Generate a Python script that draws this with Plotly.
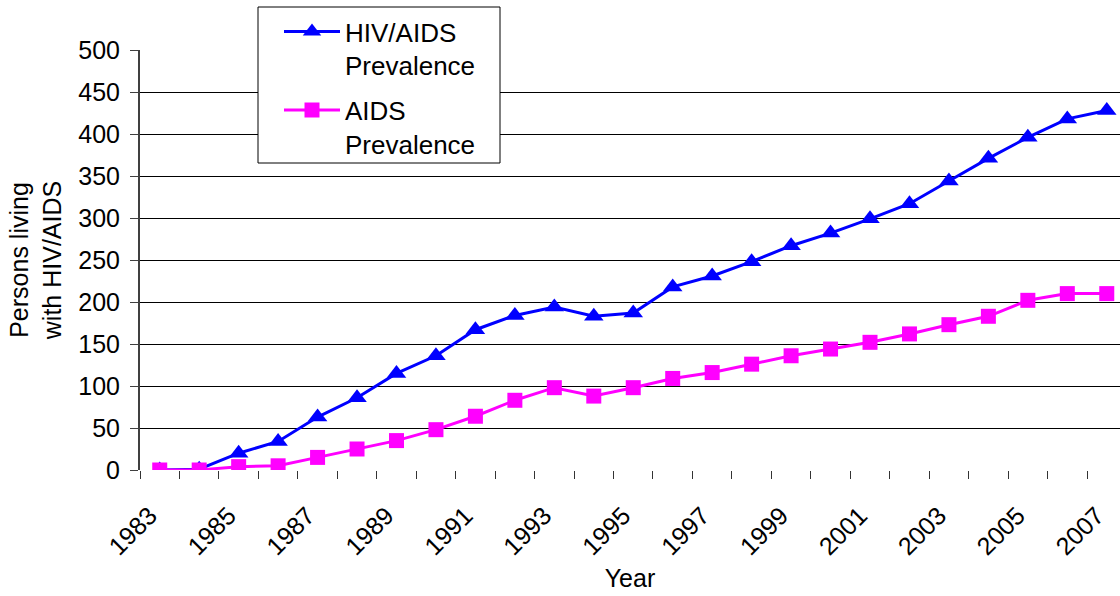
import plotly.graph_objects as go

years = list(range(1983, 2008))
hiv_aids = [0, 1, 20, 34, 63, 86, 115, 136, 167, 184, 194, 183, 187, 218, 231, 248, 267, 282, 299, 317, 344, 371, 396, 418, 428]
aids = [0, 0, 4, 5, 15, 25, 35, 48, 64, 83, 98, 88, 98, 109, 116, 126, 136, 144, 152, 162, 173, 183, 202, 210, 210]
tick_years = [y for y in years if y % 2 == 1]
y_ticks = list(range(0, 501, 50))

FONT = "Liberation Sans, Arial, sans-serif"

fig = go.Figure()
fig.add_trace(go.Scatter(
    x=years, y=hiv_aids, mode="lines+markers", name="HIV/AIDS<br>Prevalence",
    line=dict(color="#0000FF", width=3),
    marker=dict(symbol="triangle-up", size=17, color="#0000FF"),
    legendgroup="a",
))
fig.add_trace(go.Scatter(
    x=years, y=aids, mode="lines+markers", name="AIDS<br>Prevalence",
    line=dict(color="#FF00FF", width=3),
    marker=dict(symbol="square", size=15, color="#FF00FF"),
    legendgroup="b",
))

cat_w = 39.46
plot_w = 980
plot_h = 420
x0 = years[0] - 0.5
x1 = x0 + plot_w / cat_w


def px_x(p):
    return (p - 140) / plot_w


def px_y(p):
    return (470 - p) / plot_h


# legend frame
fig.add_shape(type="rect", xref="paper", yref="paper",
              x0=px_x(258), x1=px_x(500), y0=px_y(163), y1=px_y(7),
              line=dict(color="black", width=1), fillcolor="white", layer="above")

fig.update_layout(
    width=1120, height=596,
    margin=dict(l=140, r=0, t=50, b=126),
    paper_bgcolor="white", plot_bgcolor="white",
    font=dict(family=FONT, size=25, color="black"),
    showlegend=True,
    legend=dict(
        x=px_x(279), y=px_y(8), xanchor="left", yanchor="top",
        bgcolor="rgba(0,0,0,0)", borderwidth=0,
        font=dict(family=FONT, size=26, color="black"),
        valign="top", traceorder="grouped", tracegroupgap=8,
        itemwidth=56,
    ),
    xaxis=dict(
        range=[x0, x1], tickmode="array", tickvals=tick_years,
        ticktext=[str(y) for y in tick_years], tickangle=-45,
        ticks="", showgrid=False, zeroline=False,
        showline=False,
        ticklabelstandoff=25, ticklabelshift=-10,
        minor=dict(tickmode="array", tickvals=[y - 0.5 for y in years] + [years[-1] + 0.5],
                   ticks="outside", ticklen=8, tickcolor="#333", tickwidth=1, showgrid=False),
        title=dict(text="Year", standoff=10, font=dict(size=25)),
        tickfont=dict(size=25),
    ),
    yaxis=dict(
        range=[0, 500], tickmode="array", tickvals=y_ticks,
        showgrid=True, gridcolor="black", gridwidth=1,
        zeroline=False, showline=True, linecolor="#404040", linewidth=2,
        ticks="outside", ticklen=8, tickcolor="#404040",
        ticklabelstandoff=5,
        tickfont=dict(size=25),
        title=dict(text="Persons living<br>with HIV/AIDS", standoff=10, font=dict(size=25)),
    ),
)

fig.write_html("out.html", config={"displayModeBar": False},
               post_script="document.body.style.margin='0';")
